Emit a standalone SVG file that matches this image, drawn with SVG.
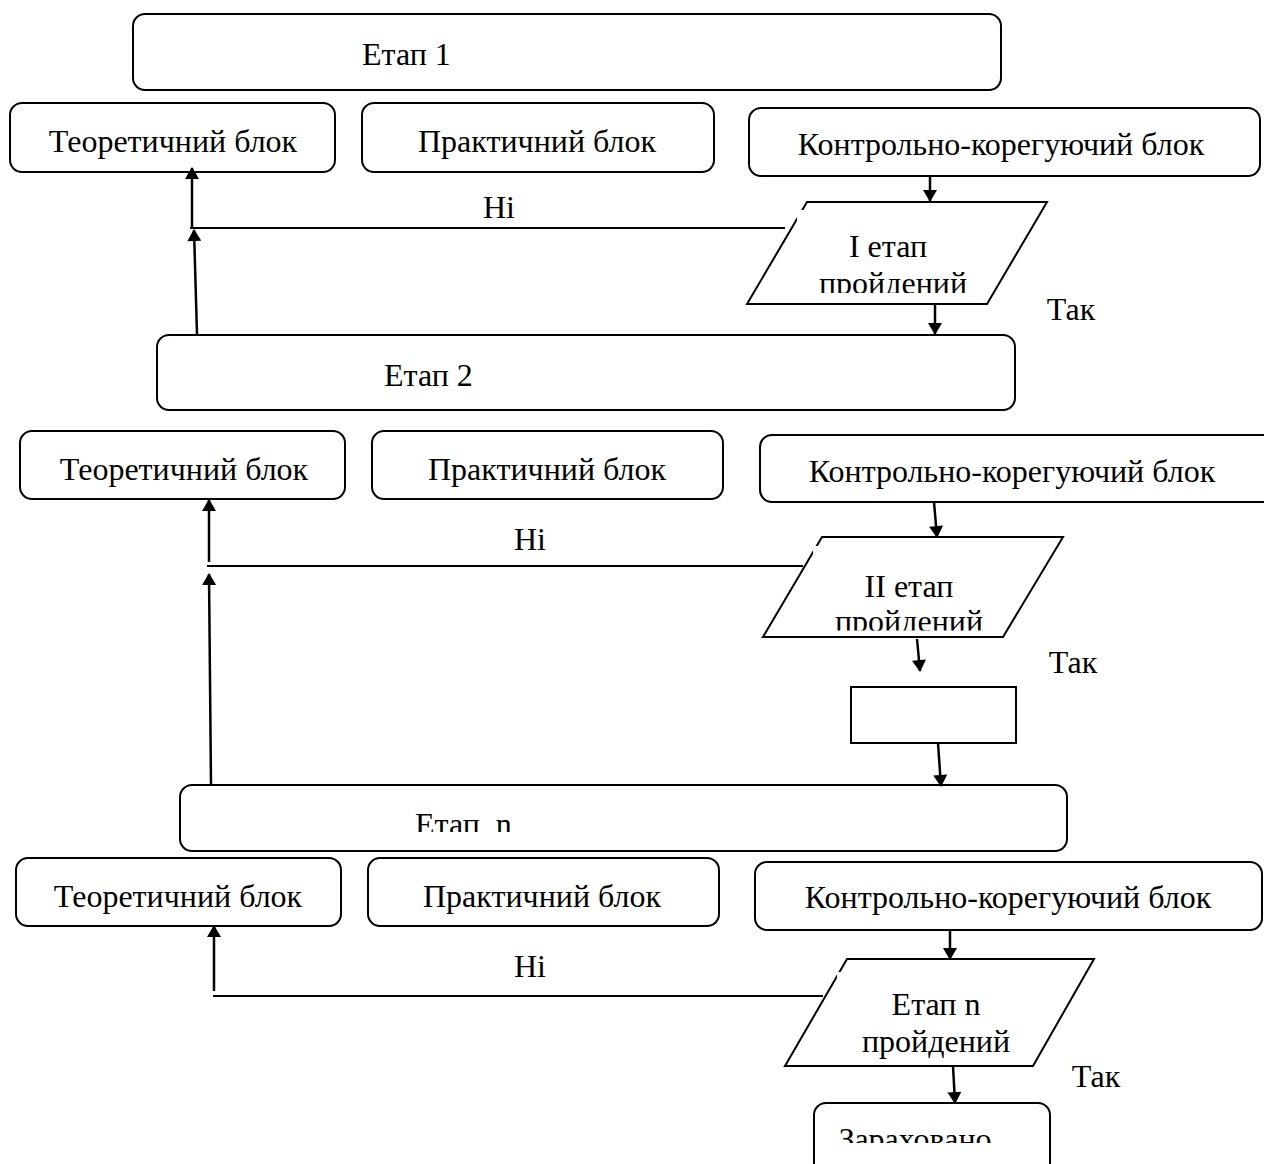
<svg xmlns="http://www.w3.org/2000/svg" width="1264" height="1164" viewBox="0 0 1264 1164">
<defs>
<style>
.box{fill:#fff;stroke:#000;stroke-width:2}
.rect{fill:#fff;stroke:#000;stroke-width:2}
.par{fill:#fff;stroke:#000;stroke-width:2}
.mask{fill:#fff;stroke:none}
.t{font-family:"Liberation Serif","Times New Roman",serif;font-size:32px;fill:#000;text-anchor:middle}
.ts{font-family:"Liberation Serif","Times New Roman",serif;font-size:32px;fill:#000}
.c{fill:none;stroke:#000;stroke-width:2.5}
.l{fill:none;stroke:#000;stroke-width:2}
</style>
<marker id="ah" viewBox="0 0 12 14" refX="11" refY="7" markerWidth="13" markerHeight="14" markerUnits="userSpaceOnUse" orient="auto">
<path d="M0,0 L12,7 L0,14 Z" fill="#000"/>
</marker>
<clipPath id="cp1"><rect x="790" y="200" width="200" height="93"/></clipPath>
<clipPath id="cp2"><rect x="800" y="540" width="210" height="90.5"/></clipPath>
<clipPath id="cpn"><rect x="180" y="785" width="887" height="47"/></clipPath>
<clipPath id="cpz"><rect x="814" y="1103" width="236" height="40"/></clipPath>
</defs>

<g id="stage1">
<rect class="box" x="133" y="14" width="868" height="76" rx="12"/>
<text class="ts" x="362" y="65">Етап 1</text>
</g>
<g id="theory1">
<rect class="box" x="10" y="103" width="325" height="69" rx="12"/>
<text class="t" x="173" y="152">Теоретичний блок</text>
</g>
<g id="practice1">
<rect class="box" x="362" y="103" width="352" height="69" rx="12"/>
<text class="t" x="537" y="152">Практичний блок</text>
</g>
<g id="control1">
<rect class="box" x="749" y="108" width="511" height="68" rx="12"/>
<text class="t" x="1001" y="155">Контрольно-корегуючий блок</text>
</g>
<g id="decision1">
<polygon class="par" points="807,202 1047,202 987,304 747,304"/>
<rect class="mask" x="797" y="210" width="188" height="93"/>
<g clip-path="url(#cp1)">
<text class="t" x="888" y="257">I етап</text>
<text class="t" x="893" y="294">пройдений</text>
</g>
</g>

<g id="stage2">
<rect class="box" x="157" y="335" width="858" height="75" rx="12"/>
<text class="ts" x="384" y="386">Етап 2</text>
</g>
<g id="theory2">
<rect class="box" x="20" y="431" width="325" height="68" rx="12"/>
<text class="t" x="184" y="480">Теоретичний блок</text>
</g>
<g id="practice2">
<rect class="box" x="372" y="431" width="351" height="68" rx="12"/>
<text class="t" x="547" y="480">Практичний блок</text>
</g>
<g id="control2">
<rect class="box" x="760" y="435" width="530" height="67" rx="12"/>
<text class="t" x="1012" y="482">Контрольно-корегуючий блок</text>
</g>
<g id="decision2">
<polygon class="par" points="822,537 1063,537 1003,637 763,637"/>
<rect class="mask" x="813" y="546" width="187" height="90"/>
<g clip-path="url(#cp2)">
<text class="t" x="909" y="597">II етап</text>
<text class="t" x="909" y="632">пройдений</text>
</g>
</g>
<g id="blank">
<rect class="rect" x="851" y="687" width="165" height="56"/>
</g>

<g id="stagen">
<rect class="box" x="180" y="785" width="887" height="66" rx="12"/>
<g clip-path="url(#cpn)"><text class="ts" x="415" y="835" xml:space="preserve">Етап  n</text></g>
</g>
<g id="theory3">
<rect class="box" x="16" y="858" width="325" height="68" rx="12"/>
<text class="t" x="178" y="907">Теоретичний блок</text>
</g>
<g id="practice3">
<rect class="box" x="368" y="858" width="351" height="68" rx="12"/>
<text class="t" x="542" y="907">Практичний блок</text>
</g>
<g id="control3">
<rect class="box" x="755" y="862" width="507" height="68" rx="12"/>
<text class="t" x="1008" y="908">Контрольно-корегуючий блок</text>
</g>
<g id="decisionn">
<polygon class="par" points="847,959 1094,959 1033,1066 785,1066"/>
<rect class="mask" x="837" y="972" width="190" height="93"/>
<text class="t" x="936" y="1015">Етап n</text>
<text class="t" x="936" y="1052">пройдений</text>
</g>
<g id="passed">
<rect class="box" x="814" y="1103" width="236" height="80" rx="12"/>
<g clip-path="url(#cpz)"><text class="t" x="915" y="1150">Зараховано</text></g>
</g>

<g id="labels">
<text class="t" x="499" y="218">Ні</text>
<text class="t" x="1071" y="320">Так</text>
<text class="t" x="530" y="550">Ні</text>
<text class="t" x="1073" y="673">Так</text>
<text class="t" x="530" y="977">Ні</text>
<text class="t" x="1096" y="1087">Так</text>
</g>

<g id="connectors">
<line class="c" x1="930" y1="176" x2="930" y2="201" marker-end="url(#ah)"/>
<polyline class="l" points="785,228 190,228"/>
<line class="c" x1="192" y1="228" x2="192" y2="168" marker-end="url(#ah)"/>
<line class="c" x1="197" y1="334" x2="194" y2="230" marker-end="url(#ah)"/>
<line class="c" x1="935" y1="305" x2="935" y2="334" marker-end="url(#ah)"/>

<line class="c" x1="934" y1="502" x2="937" y2="537" marker-end="url(#ah)"/>
<polyline class="l" points="803,566 207,566"/>
<line class="c" x1="209" y1="562" x2="209" y2="500" marker-end="url(#ah)"/>
<line class="c" x1="211" y1="785" x2="209" y2="574" marker-end="url(#ah)"/>
<line class="c" x1="917" y1="639" x2="920" y2="671" marker-end="url(#ah)"/>
<line class="c" x1="938" y1="743" x2="941" y2="786" marker-end="url(#ah)"/>

<line class="c" x1="950" y1="930" x2="950" y2="959" marker-end="url(#ah)"/>
<polyline class="l" points="823,996 213,996"/>
<line class="c" x1="214" y1="991" x2="214" y2="926" marker-end="url(#ah)"/>
<line class="c" x1="953" y1="1066" x2="955" y2="1103" marker-end="url(#ah)"/>
</g>
</svg>
